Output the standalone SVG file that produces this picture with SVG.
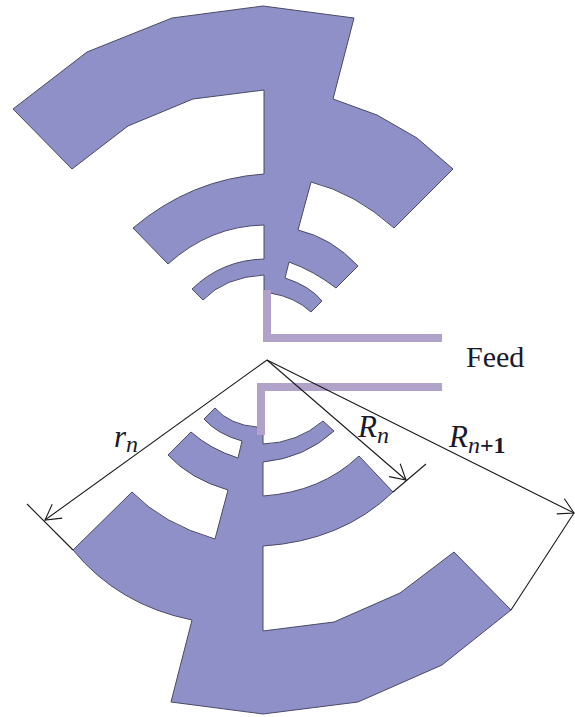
<svg xmlns="http://www.w3.org/2000/svg" width="575" height="717" viewBox="0 0 575 717">
<style>
.patch{fill:#8f90c8;stroke:#4a4a66;stroke-width:1;stroke-linejoin:round}
.feed{fill:#b0a2c8}
.dim{fill:none;stroke:#1a1a1a;stroke-width:1.1}
.arrow{fill:none;stroke:#1a1a1a;stroke-width:1.1}
text{font-family:"Liberation Serif","Times New Roman",serif;fill:#1a1a2a}
.math{font-size:31px;font-style:italic}
.sub{font-size:24px}
.up{font-style:normal;font-weight:bold}
</style>
<defs>
<marker id="open" markerUnits="userSpaceOnUse" markerWidth="24" markerHeight="24" refX="20" refY="12" orient="auto" overflow="visible">
<path class="arrow" d="M5 3.5L20 12L5 20.5"/>
</marker>
</defs>
<rect width="575" height="717" fill="#fff"/>
<g id="patch-top">
<path class="patch" d="M263 6L354 18L333 99L377 115L417 138L453 169L394 228Q355 193 311 182L298 230Q332 238 358 266L336 288Q314 271 289 262L285 278Q310 286 322 301L311 312Q295 297 270 293L264 290V275Q225 277 203 300L192 289Q222 260 264 259V225Q210 226 168 264L133 228Q191 179 264 174V90L193 99L128 126L72 169L13 109L87 52L172 18Z"/>
</g>
<g id="patch-bottom">
<path class="patch" d="M263 714L358 702L442 665L511 610L454 552L400 593L334 622L263 631V546Q342 541 393 492L359 456Q321 492 263 496V462Q305 458 334 431L323 421Q297 443 263 444V435L257 427Q230 425 215 408L204 419Q217 434 242 441L238 458Q210 449 191 432L168 455Q190 479 228 490L215 539Q163 524 132 492L73 550Q118 605 192 620L171 702Z"/>
</g>
<g id="feed">
<path class="feed" d="M263 290H271V334H442V342H263Z"/>
<path class="feed" d="M257 383H442V391H265V435H257Z"/>
</g>
<g id="connectors">
<line class="dim" x1="267" y1="360" x2="45" y2="520" marker-end="url(#open)"/>
<line class="dim" x1="267" y1="360" x2="406" y2="480" marker-end="url(#open)"/>
<line class="dim" x1="267" y1="360" x2="574" y2="513" marker-end="url(#open)"/>
<line class="dim" x1="27" y1="504" x2="73" y2="550"/>
<line class="dim" x1="426" y1="464" x2="393" y2="492"/>
<line class="dim" x1="574" y1="513" x2="511" y2="610"/>
</g>
<g id="labels">
<text x="466" y="367" font-size="30">Feed</text>
<text class="math" x="114" y="447">r<tspan class="sub" dy="5">n</tspan></text>
<text class="math" x="358" y="437">R<tspan class="sub" dy="6">n</tspan></text>
<text class="math" x="449" y="447">R<tspan class="sub" dy="6">n</tspan><tspan class="sub up">+1</tspan></text>
</g>
</svg>
